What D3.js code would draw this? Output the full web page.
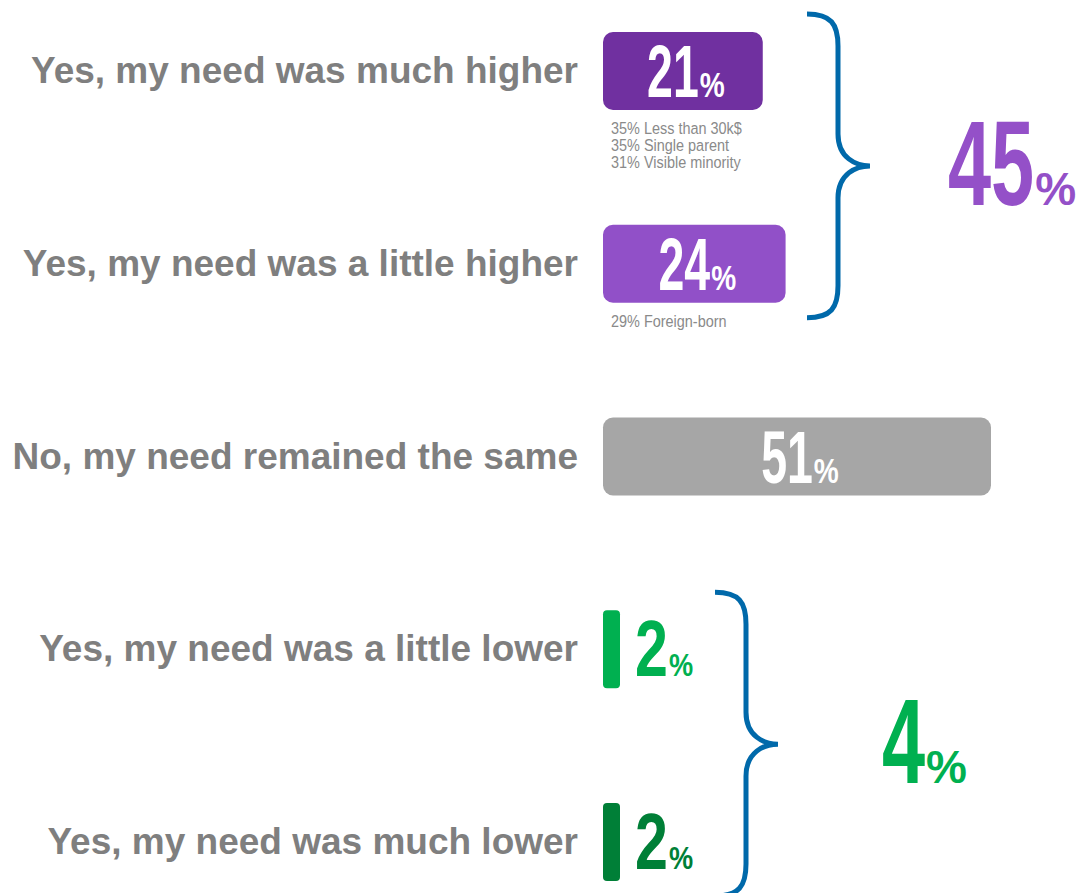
<!DOCTYPE html>
<html>
<head>
<meta charset="utf-8">
<script src="https://cdn.jsdelivr.net/npm/d3@7"></script>
<style>
  body { margin: 0; background: #fff; }
  text { font-family: "Liberation Sans", Arial, sans-serif; }
</style>
</head>
<body>
<div id="chart"></div>
<script>
const categories = [
	"Yes, my need was much higher",
	"Yes, my need was a little higher",
	"No, my need remained the same",
	"Yes, my need was a little lower",
	"Yes, my need was much lower",
]
const values = [21, 24, 51, 2, 2]
const barColors = ["#7030a0", "#9150c8", "#a6a6a6", "#00b050", "#007f37"]
const notes = [
	["35% Less than 30k$", "35% Single parent", "31% Visible minority"],
	["29% Foreign-born"],
	[],
	[],
	[],
]
const groupRows = [[0, 1], [3, 4]]
const groupTotals = [45, 4]
const groupColors = ["#9450c8", "#00b050"]

const width = 1087, height = 893
const x0 = 603, barH = 78

const svg = d3.select("#chart").append("svg").attr("width", width).attr("height", height)

const y = d3.scalePoint().domain(categories).range([71, 842])
const x = d3.scaleLinear().domain([0, 51]).range([0, 388])

// "NN%" : squeezed digits followed by a smaller, squat percent sign
function pct(parent, value, big, small, sx, sxp, anchor, tx, ty, color) {
	const g = parent.append("g")
	const num = g.append("text")
		.attr("transform", `scale(${sx},1)`)
		.attr("font-size", big)
		.attr("font-weight", "bold")
		.attr("fill", color)
		.text(value)
	const nw = num.node().getComputedTextLength() * sx
	const p = g.append("text")
		.attr("transform", `translate(${nw + 1},0) scale(${sxp},1)`)
		.attr("font-size", small)
		.attr("font-weight", "bold")
		.attr("fill", color)
		.text("%")
	const total = nw + 1 + p.node().getComputedTextLength() * sxp
	const left = anchor === "middle" ? tx - total / 2 : tx
	g.attr("transform", `translate(${left},${ty})`)
}

const rows = svg.selectAll(".row")
	.data(categories.map((c, i) => ({ cat: c, value: values[i], color: barColors[i], notes: notes[i] })))
	.enter()
	.append("g")
	.attr("class", "row")

rows.append("text")
	.attr("x", 578)
	.attr("y", d => y(d.cat) + 12)
	.attr("text-anchor", "end")
	.attr("font-size", 37)
	.attr("font-weight", "bold")
	.attr("fill", "#7f7f7f")
	.text(d => d.cat)

rows.append("rect")
	.attr("x", x0)
	.attr("y", d => y(d.cat) - barH / 2)
	.attr("width", d => Math.max(x(d.value), 17))
	.attr("height", barH)
	.attr("rx", d => x(d.value) > 40 ? 10 : 4)
	.attr("fill", d => d.color)

rows.each(function (d) {
	const g = d3.select(this)
	const w = x(d.value)
	if (w > 100) {
		pct(g, d.value, 75, 36, 0.62, 0.78, "middle", x0 + w / 2 + 3, y(d.cat) + 26, "#fff")
	} else {
		pct(g, d.value, 80, 32, 0.74, 0.85, "start", x0 + Math.max(w, 17) + 15, y(d.cat) + 27, d.color)
	}
	g.selectAll(".note")
		.data(d.notes)
		.enter()
		.append("text")
		.attr("class", "note")
		.attr("transform", (n, i) => `translate(${x0 + 8},${y(d.cat) + barH / 2 + 24 + i * 17}) scale(0.85,1)`)
		.attr("font-size", 17)
		.attr("fill", "#8a8a8a")
		.text(n => n)
})

// braces grouping the rows
const braceX = [807, 715]
const totalX = [948, 882]

function bracePath(xe, y0, y1) {
	const xb = xe + 31, xt = xe + 63, ym = (y0 + y1) / 2, r = 32
	return `M${xe},${y0} C${xe + 24},${y0} ${xb},${y0 + 10} ${xb},${y0 + r}` +
		` L${xb},${ym - r} C${xb},${ym - 8} ${xb + 18},${ym} ${xt},${ym}` +
		` C${xb + 18},${ym} ${xb},${ym + 8} ${xb},${ym + r}` +
		` L${xb},${y1 - r} C${xb},${y1 - 10} ${xe + 24},${y1} ${xe},${y1}`
}

groupRows.forEach((rs, i) => {
	const top = y(categories[rs[0]]) - barH / 2 - 18
	const bot = y(categories[rs[rs.length - 1]]) + barH / 2 + 15
	svg.append("path")
		.attr("d", bracePath(braceX[i], top, bot))
		.attr("fill", "none")
		.attr("stroke", "#0069aa")
		.attr("stroke-width", 5)
	pct(svg, groupTotals[i], 121, 46, 0.64, 1, "start", totalX[i], (top + bot) / 2 + 39, groupColors[i])
})
</script>
</body>
</html>
